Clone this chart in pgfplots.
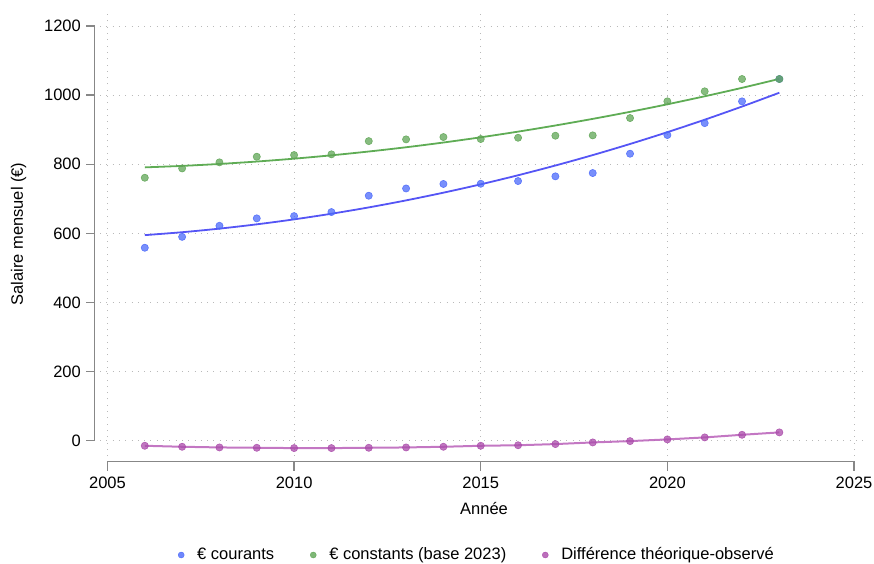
\documentclass[border=0pt]{standalone}
\usepackage{pgfplots}
\pgfplotsset{compat=1.18}
\usepackage{fontspec}
\setmainfont{Liberation Sans}
\definecolor{cblue}{RGB}{75,105,250}
\definecolor{cgreen}{RGB}{95,165,85}
\definecolor{cpurple}{RGB}{170,75,170}
\definecolor{lblue}{RGB}{85,85,245}
\definecolor{lgreen}{RGB}{95,172,85}
\definecolor{lpurple}{RGB}{185,95,185}
\definecolor{axiscol}{RGB}{135,135,135}
\begin{document}
\fontsize{16.5}{19.8}\selectfont
\begin{tikzpicture}[x=1pt,y=1pt]
\path[use as bounding box] (0,0) rectangle (874,563);
\begin{axis}[
  at={(100pt,107pt)}, anchor=south west,
  scale only axis, width=768pt, height=444pt,
  xmin=2004.8, xmax=2025.375, ymin=-44, ymax=1240.5,
  xtick={2005,2010,2015,2020,2025}, ytick={0,200,400,600,800,1000,1200},
  /pgf/number format/assume math mode=true,
  /pgf/number format/set thousands separator={},
  scaled ticks=false,
  axis line style={draw=none}, tick style={draw=none},
  grid=major,
  grid style={gray!55, line width=0.9pt, dash pattern=on 0.9pt off 5.4pt},
  clip=false,
  every tick label/.append style={inner sep=0pt, font=\fontsize{16.5}{19.8}\selectfont},
  yticklabel style={anchor=east, xshift=-19pt},
  xticklabel style={anchor=north, yshift=-20.7pt},
  xlabel={Année}, ylabel={Salaire mensuel (€)},
  every axis x label/.style={at={(rel axis cs:0.5,0)}, anchor=north, yshift=-46pt, inner sep=0pt},
  every axis y label/.style={at={(rel axis cs:0,0.5)}, xshift=-81.5pt, rotate=90, anchor=center, inner sep=0pt},
  legend columns=3,
  legend style={at={(0.5,0)}, anchor=center, yshift=-99pt, xshift=-7pt, draw=none, fill=none,
    font=\fontsize{16.5}{19.8}\selectfont,
    /tikz/every odd column/.append style={column sep=11pt},
    /tikz/every even column/.append style={column sep=34pt}},
]
\addlegendimage{only marks, mark=*, mark size=3pt, mark options={draw=cblue, fill=cblue, fill opacity=0.8}}
\addlegendentry{€ courants}
\addlegendimage{only marks, mark=*, mark size=3pt, mark options={draw=cgreen, fill=cgreen, fill opacity=0.8}}
\addlegendentry{€ constants (base 2023)}
\addlegendimage{only marks, mark=*, mark size=3pt, mark options={draw=cpurple, fill=cpurple, fill opacity=0.8}}
\addlegendentry{Différence théorique-observé}

% current euros (points)
\addplot[forget plot, only marks, mark=*, mark size=3.6pt,
  mark options={draw=cblue, fill=cblue, fill opacity=0.75, draw opacity=0.85, line width=0.6pt}]
coordinates {(2006,558.5) (2007,590) (2008,622) (2009,643.5) (2010,650) (2011,661.7)
 (2012,709) (2013,730) (2014,743) (2015,743.6) (2016,751.4) (2017,765) (2018,774.6)
 (2019,830.5) (2020,884.5) (2021,919) (2022,982) (2023,1046.6)};
% constant euros (points)
\addplot[forget plot, only marks, mark=*, mark size=3.6pt,
  mark options={draw=cgreen, fill=cgreen, fill opacity=0.75, draw opacity=0.85, line width=0.6pt}]
coordinates {(2006,761) (2007,788) (2008,805.5) (2009,821.8) (2010,826.7) (2011,828.7)
 (2012,867) (2013,872) (2014,878.7) (2015,873) (2016,876.7) (2017,882.6) (2018,883.6)
 (2019,933.7) (2020,982) (2021,1011) (2022,1046.6) (2023,1046.6)};
% fitted curves
\addplot[forget plot, lblue, line width=1.8pt, smooth] coordinates {
 (2006,595) (2007,603.4) (2008,613.8) (2009,626.2) (2010,640.6) (2011,656.9) (2012,675.2)
 (2013,695.5) (2014,717.8) (2015,742.0) (2016,768.2) (2017,796.4) (2018,826.5) (2019,858.7)
 (2020,892.8) (2021,928.9) (2022,967.0) (2023,1007)};
\addplot[forget plot, lgreen, line width=1.8pt, smooth] coordinates {
 (2006,791) (2007,795.3) (2008,800.9) (2009,807.9) (2010,816.2) (2011,825.9) (2012,836.9)
 (2013,849.2) (2014,862.9) (2015,878.0) (2016,894.4) (2017,912.2) (2018,931.3) (2019,951.7)
 (2020,973.5) (2021,996.7) (2022,1021.1) (2023,1047)};
% difference
\addplot[forget plot, lpurple, line width=2pt, draw opacity=0.85, mark=*, mark size=3.6pt,
  mark options={draw=cpurple, fill=cpurple, fill opacity=0.75, draw opacity=0.85, line width=0.6pt}]
coordinates {(2006,-14.4) (2007,-17.3) (2008,-19.2) (2009,-20.2) (2010,-21.1) (2011,-21.1)
 (2012,-20.2) (2013,-19.2) (2014,-17.3) (2015,-14.4) (2016,-12.9) (2017,-9.5) (2018,-4.7)
 (2019,-0.9) (2020,4.0) (2021,9.8) (2022,17.4) (2023,24.3)};

% Stata-style offset axis lines
\draw[axiscol, line width=1.3pt] (axis cs:2004.43,0) -- (axis cs:2004.644,0) -- (axis cs:2004.644,1200) -- (axis cs:2004.43,1200);
\pgfplotsinvokeforeach{200,400,600,800,1000}{
  \draw[axiscol, line width=1.3pt] (axis cs:2004.43,#1) -- (axis cs:2004.644,#1);
}
\draw[axiscol, line width=1.3pt] (axis cs:2005,-86.5) -- (axis cs:2005,-60.8) -- (axis cs:2025,-60.8) -- (axis cs:2025,-86.5);
\pgfplotsinvokeforeach{2010,2015,2020}{
  \draw[axiscol, line width=1.3pt] (axis cs:#1,-86.5) -- (axis cs:#1,-60.8);
}
\end{axis}
\end{tikzpicture}
\end{document}
